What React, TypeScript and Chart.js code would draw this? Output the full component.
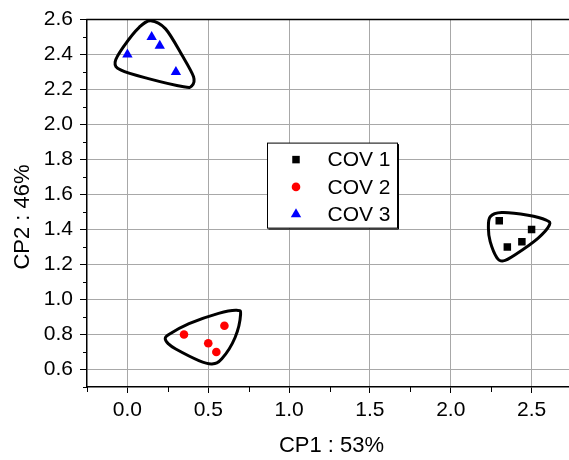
import React, { useEffect, useRef } from 'react';
import { Chart, registerables } from 'chart.js';

Chart.register(...registerables);

// ---- data ----
const seriesLabels = ['COV 1', 'COV 2', 'COV 3'];
const cov1X = [2.30, 2.35, 2.44, 2.50];
const cov1Y = [1.45, 1.30, 1.33, 1.40];
const cov2X = [0.35, 0.50, 0.55, 0.60];
const cov2Y = [0.80, 0.75, 0.70, 0.85];
const cov3X = [0.00, 0.15, 0.20, 0.30];
const cov3Y = [2.40, 2.50, 2.45, 2.30];

// enclosing outlines (data coordinates)
const hull1X = [2.244, 2.315, 2.478, 2.590, 2.610, 2.539, 2.396, 2.325, 2.285, 2.244, 2.233];
const hull1Y = [1.473, 1.497, 1.482, 1.454, 1.425, 1.350, 1.255, 1.221, 1.240, 1.331, 1.406];
const hull2X = [0.256, 0.381, 0.564, 0.676, 0.700, 0.666, 0.584, 0.523, 0.442, 0.299, 0.252, 0.234];
const hull2Y = [0.800, 0.862, 0.921, 0.938, 0.915, 0.783, 0.661, 0.632, 0.651, 0.717, 0.748, 0.776];
const hull3X = [0.144, 0.236, 0.338, 0.409, 0.399, 0.348, 0.124, -0.039, -0.076, -0.018, 0.073];
const hull3Y = [2.594, 2.547, 2.396, 2.273, 2.222, 2.216, 2.264, 2.311, 2.358, 2.453, 2.556];

const xMin = -0.25;
const xMax = 2.75;
const yMin = 0.5;
const yMax = 2.6;
const xMajorTicks = [0, 0.5, 1.0, 1.5, 2.0, 2.5];
const xMinorTicks = [-0.25, 0.25, 0.75, 1.25, 1.75, 2.25, 2.75];
const yMajorTicks = [0.6, 0.8, 1.0, 1.2, 1.4, 1.6, 1.8, 2.0, 2.2, 2.4, 2.6];
const yMinorTicks = [0.5, 0.7, 0.9, 1.1, 1.3, 1.5, 1.7, 1.9, 2.1, 2.3, 2.5];
const xTitle = 'CP1 : 53%';
const yTitle = 'CP2 : 46%';

const FONT = '"Liberation Sans", Arial, sans-serif';

function toPoints(xs: number[], ys: number[]) {
  return xs.map((x, i) => ({ x, y: ys[i] }));
}

function drawHull(ctx: CanvasRenderingContext2D, xs: number[], ys: number[], sx: any, sy: any) {
  const pts = xs.map((x, i) => ({ x: sx.getPixelForValue(x), y: sy.getPixelForValue(ys[i]) }));
  const n = pts.length;
  ctx.beginPath();
  ctx.moveTo(pts[0].x, pts[0].y);
  for (let i = 0; i < n; i++) {
    const p0 = pts[(i - 1 + n) % n];
    const p1 = pts[i];
    const p2 = pts[(i + 1) % n];
    const p3 = pts[(i + 2) % n];
    ctx.bezierCurveTo(
      p1.x + (p2.x - p0.x) / 6, p1.y + (p2.y - p0.y) / 6,
      p2.x - (p3.x - p1.x) / 6, p2.y - (p3.y - p1.y) / 6,
      p2.x, p2.y
    );
  }
  ctx.closePath();
  ctx.lineWidth = 3;
  ctx.strokeStyle = '#000';
  ctx.lineJoin = 'round';
  ctx.stroke();
}

function drawMarker(ctx: CanvasRenderingContext2D, style: string, r: number, x: number, y: number, color: string) {
  ctx.fillStyle = color;
  ctx.beginPath();
  if (style === 'rect') {
    const s = Math.SQRT1_2 * r;
    ctx.rect(x - s, y - s, 2 * s, 2 * s);
  } else if (style === 'triangle') {
    let rad = 0;
    ctx.moveTo(x + Math.sin(rad) * r, y - Math.cos(rad) * r);
    rad += (2 * Math.PI) / 3;
    ctx.lineTo(x + Math.sin(rad) * r, y - Math.cos(rad) * r);
    rad += (2 * Math.PI) / 3;
    ctx.lineTo(x + Math.sin(rad) * r, y - Math.cos(rad) * r);
    ctx.closePath();
  } else {
    ctx.arc(x, y, r, 0, Math.PI * 2);
  }
  ctx.fill();
}

const overlay = {
  id: 'overlay',
  beforeDatasetsDraw(chart: any) {
    const ctx = chart.ctx as CanvasRenderingContext2D;
    const sx = chart.scales.x;
    const sy = chart.scales.y;
    ctx.save();
    drawHull(ctx, hull1X, hull1Y, sx, sy);
    drawHull(ctx, hull2X, hull2Y, sx, sy);
    drawHull(ctx, hull3X, hull3Y, sx, sy);
    ctx.restore();
  },
  afterDraw(chart: any) {
    const ctx = chart.ctx as CanvasRenderingContext2D;
    const { left, right, top, bottom } = chart.chartArea;
    const sx = chart.scales.x;
    const sy = chart.scales.y;
    ctx.save();
    // top frame line
    ctx.strokeStyle = '#000';
    ctx.lineWidth = 1.5;
    ctx.beginPath();
    ctx.moveTo(left - 0.75, top);
    ctx.lineTo(right, top);
    ctx.stroke();
    // minor ticks
    ctx.lineWidth = 1;
    ctx.beginPath();
    xMinorTicks.forEach((v) => {
      const px = Math.round(sx.getPixelForValue(v)) + 0.5;
      ctx.moveTo(px, bottom);
      ctx.lineTo(px, bottom + 5);
    });
    yMinorTicks.forEach((v) => {
      const py = Math.round(sy.getPixelForValue(v)) + 0.5;
      ctx.moveTo(left, py);
      ctx.lineTo(left - 4, py);
    });
    ctx.stroke();

    // axis titles
    ctx.fillStyle = '#000';
    ctx.font = `22px ${FONT}`;
    ctx.textAlign = 'center';
    ctx.textBaseline = 'middle';
    ctx.fillText(xTitle, 331.5, 446);
    ctx.save();
    ctx.translate(23, 217);
    ctx.rotate(-Math.PI / 2);
    ctx.fillText(yTitle, 0, 0);
    ctx.restore();

    // legend
    const bx = left + 180.5;
    const by = top + 123.5;
    const bw = 130;
    const bh = 85;
    ctx.fillStyle = '#fff';
    ctx.fillRect(bx, by, bw, bh);
    ctx.strokeStyle = '#000';
    ctx.lineWidth = 1;
    ctx.strokeRect(bx, by, bw, bh);
    ctx.beginPath();
    ctx.moveTo(bx + bw + 1, by + 1);
    ctx.lineTo(bx + bw + 1, by + bh + 1);
    ctx.lineTo(bx + 1, by + bh + 1);
    ctx.stroke();
    ctx.font = `21px ${FONT}`;
    ctx.textAlign = 'left';
    ctx.textBaseline = 'middle';
    chart.data.datasets.forEach((ds: any, i: number) => {
      const ry = by + 16.5 + i * 27.3;
      drawMarker(ctx, ds.pointStyle, ds.pointRadius, bx + 28.5, ry, ds.backgroundColor);
      ctx.fillStyle = '#000';
      ctx.fillText(ds.label, bx + 60, ry + 1);
    });
    ctx.restore();
  },
};

export default function App() {
  const ref = useRef<HTMLCanvasElement>(null);
  useEffect(() => {
    const tickFont = { family: FONT, size: 21 };
    const chart = new Chart(ref.current as HTMLCanvasElement, {
      type: 'scatter',
      data: {
        datasets: [
          { label: seriesLabels[0], data: toPoints(cov1X, cov1Y), pointStyle: 'rect', pointRadius: 5.3, backgroundColor: '#000000', borderColor: '#000000', borderWidth: 0 },
          { label: seriesLabels[1], data: toPoints(cov2X, cov2Y), pointStyle: 'circle', pointRadius: 4.3, backgroundColor: '#ff0000', borderColor: '#ff0000', borderWidth: 0 },
          { label: seriesLabels[2], data: toPoints(cov3X, cov3Y), pointStyle: 'triangle', pointRadius: 6, backgroundColor: '#0000ff', borderColor: '#0000ff', borderWidth: 0 },
        ] as any,
      },
      options: {
        responsive: false,
        animation: false,
        devicePixelRatio: 1,
        layout: { padding: { top: 16, left: 0, right: 0, bottom: 0 } },
        plugins: { legend: { display: false }, tooltip: { enabled: false } },
        scales: {
          x: {
            type: 'linear',
            min: xMin,
            max: xMax,
            afterBuildTicks: (s: any) => { s.ticks = xMajorTicks.map((v) => ({ value: v })); },
            afterFit: (s: any) => { s.height = 73; },
            grid: { color: '#a8a8a8', lineWidth: 1, tickColor: '#000', tickLength: 6, drawTicks: true },
            border: { color: '#000', width: 1.5 },
            ticks: { font: tickFont, color: '#000', padding: 5, autoSkip: false, maxRotation: 0, callback: (v: any) => Number(v).toFixed(1) },
          },
          y: {
            type: 'linear',
            min: yMin,
            max: yMax,
            afterBuildTicks: (s: any) => { s.ticks = yMajorTicks.map((v) => ({ value: v })); },
            afterFit: (s: any) => { s.width = 87; },
            grid: { color: '#a8a8a8', lineWidth: 1, tickColor: '#000', tickLength: 7, drawTicks: true },
            border: { color: '#000', width: 1.5 },
            ticks: { font: tickFont, color: '#000', padding: 7, autoSkip: false, callback: (v: any) => Number(v).toFixed(1) },
          },
        },
      } as any,
      plugins: [overlay],
    });
    return () => chart.destroy();
  }, []);
  return (
    <div style={{ position: 'fixed', left: 0, top: 0, width: 569, height: 460, overflow: 'hidden', background: '#fff' }}>
      <canvas ref={ref} width={578} height={460} style={{ display: 'block' }} />
    </div>
  );
}
